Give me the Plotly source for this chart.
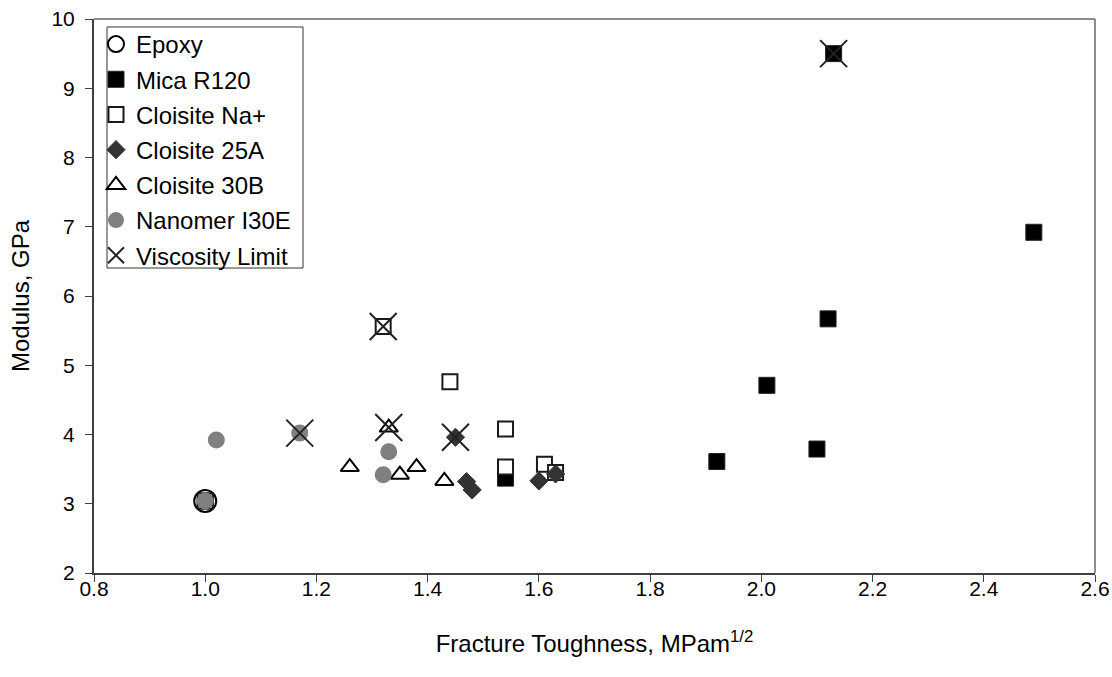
import plotly.graph_objects as go

# Fracture toughness (MPa m^1/2) and modulus (GPa) for each filler system
epoxy_x = [1.00]
epoxy_y = [3.04]

mica_x = [1.00, 1.54, 1.92, 2.01, 2.10, 2.12, 2.49, 2.13]
mica_y = [3.04, 3.37, 3.61, 4.71, 3.79, 5.67, 6.92, 9.50]

na_x = [1.00, 1.32, 1.44, 1.54, 1.54, 1.61, 1.63]
na_y = [3.04, 5.56, 4.76, 4.08, 3.53, 3.57, 3.45]

c25a_x = [1.45, 1.47, 1.48, 1.60, 1.63]
c25a_y = [3.96, 3.32, 3.20, 3.33, 3.43]

c30b_x = [1.26, 1.33, 1.35, 1.38, 1.43]
c30b_y = [3.53, 4.10, 3.42, 3.53, 3.33]

nano_x = [1.00, 1.02, 1.17, 1.32, 1.33]
nano_y = [3.04, 3.92, 4.02, 3.42, 3.75]

visc_x = [1.17, 1.32, 1.33, 1.45, 2.13]
visc_y = [4.02, 5.56, 4.10, 3.96, 9.50]

x_ticks = [0.8, 1.0, 1.2, 1.4, 1.6, 1.8, 2.0, 2.2, 2.4, 2.6]
y_ticks = [2, 3, 4, 5, 6, 7, 8, 9, 10]

FONT = "Arial, Liberation Sans, sans-serif"
TICK_SIZE = 21
TEXT_SIZE = 24

series = [
    ("Epoxy", epoxy_x, epoxy_y,
     dict(symbol="circle-open", size=22, color="black", line=dict(width=2, color="black"))),
    ("Mica R120", mica_x, mica_y,
     dict(symbol="square", size=16, color="black", line=dict(width=1, color="#222222"))),
    ("Cloisite Na+", na_x, na_y,
     dict(symbol="square", size=15, color="white", line=dict(width=2, color="#1a1a1a"))),
    ("Cloisite 25A", c25a_x, c25a_y,
     dict(symbol="diamond", size=14, color="#333333", line=dict(width=1, color="#333333"))),
    ("Cloisite 30B", c30b_x, c30b_y,
     dict(symbol="triangle-up", size=16, color="white", line=dict(width=2, color="black"))),
    ("Nanomer I30E", nano_x, nano_y,
     dict(symbol="circle", size=17, color="#808080", line=dict(width=0, color="#808080"))),
    ("Viscosity Limit", visc_x, visc_y,
     dict(symbol="x-thin-open", size=27, color="#222222", line=dict(width=2, color="#222222"))),
]

fig = go.Figure()
for i, (name, xs, ys, mk) in enumerate(series):
    fig.add_trace(go.Scatter(
        x=xs, y=ys, mode="markers", name=name, marker=mk,
        legendgroup=f"g{i}", hoverinfo="x+y+name",
    ))

# light frame on the top and right of the plotting area
fig.add_shape(type="line", xref="paper", yref="paper", x0=0, x1=1, y0=1, y1=1,
              line=dict(color="#8c8c8c", width=2))
fig.add_shape(type="line", xref="paper", yref="paper", x0=1, x1=1, y0=0, y1=1,
              line=dict(color="#8c8c8c", width=2))
# legend frame, drawn separately so the symbols can sit close to its left edge
fig.add_shape(type="rect", xref="paper", yref="paper", layer="below",
              x0=0.013, x1=0.2088, y0=0.5505, y1=0.9856,
              fillcolor="white", line=dict(color="#333333", width=1))

fig.update_layout(
    width=1112, height=677,
    margin=dict(l=94, r=17, t=19, b=104, autoexpand=False),
    paper_bgcolor="white", plot_bgcolor="white",
    font=dict(family=FONT, size=TEXT_SIZE, color="black"),
    showlegend=True,
    legend=dict(
        x=0.002, y=0.9946, xanchor="left", yanchor="top",
        bgcolor="rgba(0,0,0,0)", borderwidth=0,
        font=dict(family=FONT, size=TEXT_SIZE, color="black"),
        tracegroupgap=1, itemwidth=30,
    ),
    xaxis=dict(
        range=[0.8, 2.6], tickvals=x_ticks, tickformat=".1f",
        showgrid=False, zeroline=False, automargin=False,
        showline=True, linecolor="#404040", linewidth=2,
        ticks="outside", ticklen=7, tickwidth=1, tickcolor="#404040",
        ticklabelstandoff=-11,
        tickfont=dict(family=FONT, size=TICK_SIZE, color="black"),
        title=dict(text="Fracture Toughness, MPam<sup>1/2</sup>",
                   font=dict(family=FONT, size=TEXT_SIZE, color="black"), standoff=36),
    ),
    yaxis=dict(
        range=[2, 10], tickvals=y_ticks,
        showgrid=False, zeroline=False, automargin=False,
        showline=True, linecolor="#404040", linewidth=2,
        ticks="outside", ticklen=7, tickwidth=1, tickcolor="#404040",
        ticklabelstandoff=6,
        tickfont=dict(family=FONT, size=TICK_SIZE, color="black"),
        title=dict(text="Modulus, GPa",
                   font=dict(family=FONT, size=TEXT_SIZE, color="black"), standoff=15),
    ),
)

fig.write_html("out.html")
